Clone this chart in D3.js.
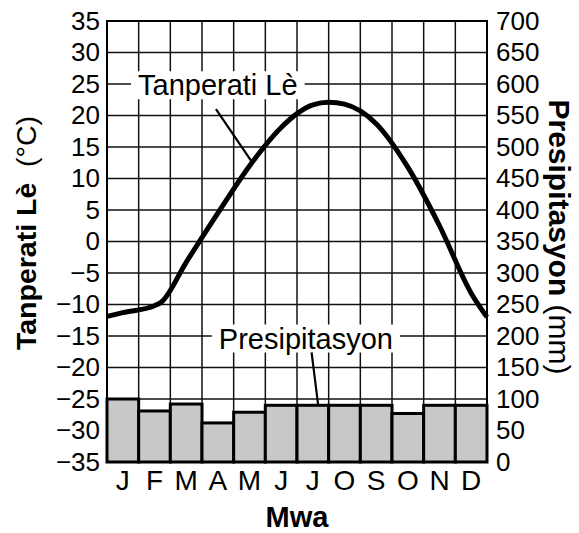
<!DOCTYPE html>
<html>
<head>
<meta charset="utf-8">
<script src="https://cdn.jsdelivr.net/npm/d3@7"></script>
<style>
  html, body { margin: 0; padding: 0; background: #fff; }
  svg { display: block; font-family: "Liberation Sans", Arial, Helvetica, sans-serif; }
</style>
</head>
<body>
<svg id="chart" width="579" height="533"></svg>
<script>
// ---- Data ----
const months = ["J", "F", "M", "A", "M", "J", "J", "O", "S", "O", "N", "D"];
const precipitation = [100, 81, 92, 62, 79, 90, 90, 90, 90, 77, 90, 90]; // mm
// temperature readings along the curve: position in months (0 = start of J, 12 = end of D)
const tempPos = [0, 0.5, 1.5, 1.72, 2.5, 3.5, 4.5, 5.5, 6.0, 6.5, 7.0, 7.5, 8.5, 9.5, 10.5, 11.5, 12];
const tempVal = [-11.9, -11.3, -10.2, -9.6, -3.3, 4.5, 12.0, 18.1, 20.3, 21.7, 22.1, 21.8, 18.7, 11.8, 2.5, -8.2, -12.0];
const tempTicks = [35, 30, 25, 20, 15, 10, 5, 0, -5, -10, -15, -20, -25, -30, -35];
const precipTicks = [700, 650, 600, 550, 500, 450, 400, 350, 300, 250, 200, 150, 100, 50, 0];
const labels = { temp: "Tanperati Lè", precip: "Presipitasyon", tempUnit: "(°C)", precipUnit: "(mm)", xTitle: "Mwa" };

// ---- Layout ----
const svg = d3.select("#chart");
const L = 107, R = 487, T = 21, B = 462;
const x = d3.scaleLinear().domain([0, 12]).range([L, R]);
const yT = d3.scaleLinear().domain([-35, 35]).range([B, T]);
const yP = d3.scaleLinear().domain([0, 700]).range([B, T]);
const fmt = d3.format("d");

// grid
const grid = svg.append("g").attr("stroke", "#111").attr("stroke-width", 1.5);
grid.selectAll("line.h").data(tempTicks.filter(t => t > -35 && t < 35)).join("line")
  .attr("x1", L).attr("x2", R).attr("y1", d => yT(d)).attr("y2", d => yT(d));
grid.selectAll("line.v").data(d3.range(1, 12)).join("line")
  .attr("x1", d => x(d)).attr("x2", d => x(d)).attr("y1", T).attr("y2", B);

// bars
svg.append("g").selectAll("rect").data(precipitation).join("rect")
  .attr("x", (d, i) => x(i)).attr("width", x(1) - x(0))
  .attr("y", d => yP(d)).attr("height", d => yP(0) - yP(d))
  .attr("fill", "#c8c8c8").attr("stroke", "#000").attr("stroke-width", 3);

// annotation labels with white boxes
function annot(text, cx, cy) {
  const g = svg.append("g");
  const t = g.append("text").attr("x", cx).attr("y", cy).attr("text-anchor", "middle")
    .attr("dominant-baseline", "central").attr("font-size", 29).text(text);
  const bb = t.node().getBBox();
  g.insert("rect", "text").attr("x", bb.x - 7).attr("y", cy - 14).attr("width", bb.width + 14)
    .attr("height", 28).attr("fill", "#fff");
  return g;
}
annot(labels.temp, x(3.5), yT(24.8));
annot(labels.precip, x(6.28), yT(-15.4));

// leader lines
svg.append("line").attr("x1", x(3.44)).attr("y1", yT(21.0)).attr("x2", x(4.58)).attr("y2", yT(12.6))
  .attr("stroke", "#000").attr("stroke-width", 2.2);
svg.append("line").attr("x1", x(6.46)).attr("y1", yT(-17.6)).attr("x2", x(6.67)).attr("y2", yP(90))
  .attr("stroke", "#000").attr("stroke-width", 2.2);

// temperature curve
const line = d3.line().x((d, i) => x(tempPos[i])).y(d => yT(d)).curve(d3.curveMonotoneX);
svg.append("path").attr("d", line(tempVal)).attr("fill", "none")
  .attr("stroke", "#000").attr("stroke-width", 5).attr("stroke-linejoin", "round");

// frame
svg.append("rect").attr("x", L).attr("y", T).attr("width", R - L).attr("height", B - T)
  .attr("fill", "none").attr("stroke", "#000").attr("stroke-width", 2);

// axes
const axL = svg.append("g").attr("transform", `translate(${L},0)`)
  .call(d3.axisLeft(yT).tickValues(tempTicks).tickSize(0).tickPadding(7).tickFormat(fmt));
const axR = svg.append("g").attr("transform", `translate(${R},0)`)
  .call(d3.axisRight(yP).tickValues(precipTicks).tickSize(0).tickPadding(9).tickFormat(fmt));
const xb = d3.scaleBand().domain(d3.range(12)).range([L, R]);
const axB = svg.append("g").attr("transform", `translate(0,${B})`)
  .call(d3.axisBottom(xb).tickSize(0).tickPadding(8).tickFormat(i => months[i]));
[axL, axR, axB].forEach(a => {
  a.select(".domain").remove();
  a.selectAll("text").attr("font-size", 26).attr("fill", "#000")
    .style("font-family", "'Liberation Sans', Arial, sans-serif");
});
axB.selectAll("text").attr("font-size", 28);

// titles
svg.append("text").attr("x", (L + R) / 2).attr("y", 527).attr("text-anchor", "middle")
  .attr("font-size", 29).attr("font-weight", "bold").text(labels.xTitle);

const lt = svg.append("text").attr("transform", `translate(36,${233}) rotate(-90)`)
  .attr("text-anchor", "middle").attr("font-size", 28.5);
lt.append("tspan").attr("font-weight", "bold").text(labels.temp);
lt.append("tspan").text("\u00a0\u00a0" + labels.tempUnit);

const rt = svg.append("text").attr("transform", `translate(549,${237}) rotate(90)`)
  .attr("text-anchor", "middle").attr("font-size", 30);
rt.append("tspan").attr("font-weight", "bold").text(labels.precip);
rt.append("tspan").text("\u00a0" + labels.precipUnit);
</script>
</body>
</html>
